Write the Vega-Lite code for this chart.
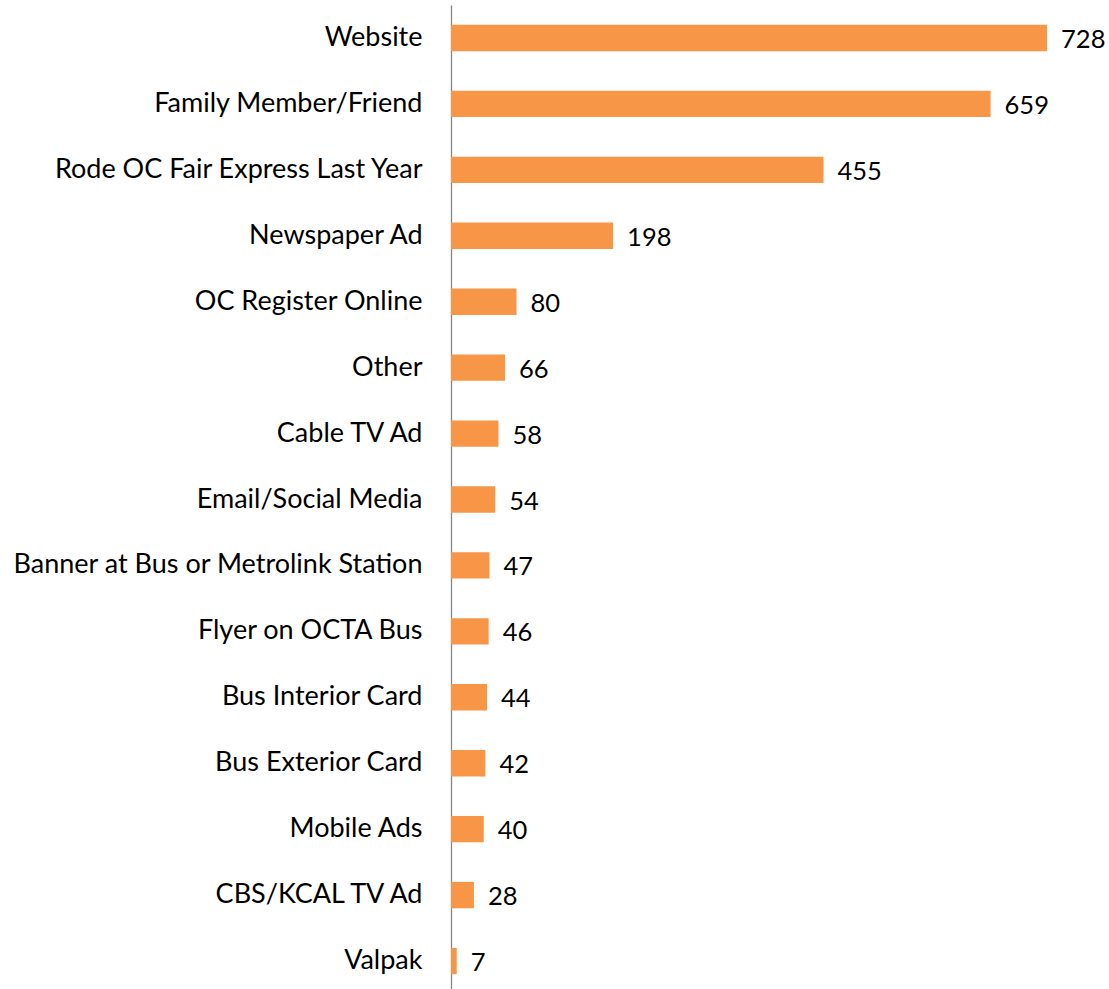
{
  "$schema": "https://vega.github.io/schema/vega-lite/v6.json",
  "autosize": "none",
  "padding": {"left": 451, "top": 5, "right": 0, "bottom": 0},
  "width": 655,
  "height": 989,
  "background": "white",
  "config": {"view": {"stroke": null}},
  "data": {"values": [
    {"source": "Website", "count": 728},
    {"source": "Family Member/Friend", "count": 659},
    {"source": "Rode OC Fair Express Last Year", "count": 455},
    {"source": "Newspaper Ad", "count": 198},
    {"source": "OC Register Online", "count": 80},
    {"source": "Other", "count": 66},
    {"source": "Cable TV Ad", "count": 58},
    {"source": "Email/Social Media", "count": 54},
    {"source": "Banner at Bus or Metrolink Station", "count": 47},
    {"source": "Flyer on OCTA Bus", "count": 46},
    {"source": "Bus Interior Card", "count": 44},
    {"source": "Bus Exterior Card", "count": 42},
    {"source": "Mobile Ads", "count": 40},
    {"source": "CBS/KCAL TV Ad", "count": 28},
    {"source": "Valpak", "count": 7}
  ]},
  "encoding": {
    "y": {"field": "source", "type": "nominal", "sort": null,
      "scale": {"paddingInner": 0.6, "paddingOuter": 0.3},
      "axis": {"title": null, "ticks": false, "labelPadding": 29, "labelFont": "Lato", "labelFontSize": 27, "labelColor": "#000000", "domainColor": "#868686", "domainWidth": 1.3, "labelLimit": 0}},
    "x": {"field": "count", "type": "quantitative", "scale": {"domain": [0, 800]}, "axis": null}
  },
  "layer": [
    {"mark": {"type": "bar", "color": "#F79646"}},
    {"mark": {"type": "text", "align": "left", "dx": 14, "font": "Lato", "fontSize": 25.5, "color": "#000000", "baseline": "middle", "dy": 2},
     "encoding": {"text": {"field": "count", "type": "quantitative"}}}
  ]
}
